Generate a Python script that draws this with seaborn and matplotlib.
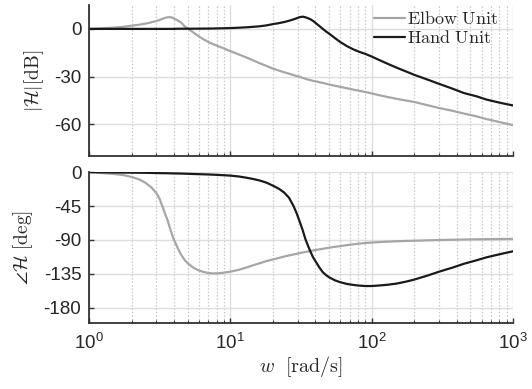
import numpy as np
import pandas as pd
import seaborn as sns
import matplotlib.pyplot as plt
from matplotlib.ticker import LogLocator, NullFormatter
from matplotlib.lines import Line2D

# frequencies [rad/s] and values
w = [1, 1.2, 1.5, 1.75, 2, 2.25, 2.5, 2.75, 3, 3.15, 3.3, 3.45, 3.6, 3.75, 3.9, 4,
     4.25, 4.5, 4.75, 5, 5.5, 6, 6.5, 7, 7.5, 8, 9, 10, 11.5, 13, 14.5, 16, 18, 20,
     22, 24, 26, 28, 29.5, 31, 32.5, 34, 35.5, 37, 38.5, 40, 42.5, 45, 47.5, 50, 55,
     60, 67, 75, 82, 90, 100, 110, 130, 150, 175, 200, 250, 300, 375, 450, 550, 650,
     800, 1000]

elbow_mag = [0, 0.3, 0.8, 1.3, 2.0, 2.6, 3.3, 4.1, 5.0, 5.6, 6.3, 6.9, 7.3, 7.4, 7.0, 6.5,
             5.3, 3.9, 1.6, 0.3, -2.4, -4.8, -6.7, -8.3, -9.5, -10.5, -12.3, -14.0, -16.1,
             -18.0, -19.8, -21.5, -23.3, -25.0, -26.2, -27.3, -28.2, -29.1, -29.7, -30.2,
             -30.8, -31.4, -31.9, -32.3, -32.7, -33.0, -33.5, -34.0, -34.5, -35.0, -35.8,
             -36.5, -37.4, -38.3, -39.0, -39.7, -40.6, -41.5, -42.9, -44.0, -45.1, -46.0,
             -48.1, -49.8, -51.6, -53.3, -55.0, -56.8, -58.6, -60.6]
hand_mag = [0, 0, 0, 0, 0, 0, 0, 0, 0, 0, 0, 0, 0, 0, 0, 0,
            0.1, 0.1, 0.1, 0.1, 0.12, 0.15, 0.18, 0.2, 0.25, 0.3, 0.4, 0.5, 0.75,
            1.0, 1.3, 1.6, 2.2, 3.0, 3.6, 4.3, 5.1, 6.0, 6.7, 7.4, 7.7, 7.3, 6.7, 6.0,
            5.0, 3.8, 1.9, 0.1, -1.6, -3.0, -5.8, -8.3, -10.9, -13.1, -14.5, -15.7,
            -17.4, -19.1, -22.0, -24.4, -26.8, -28.9, -32.0, -34.6, -37.7, -40.4,
            -42.4, -44.5, -46.4, -48.2]

elbow_phase = [0, -1.2, -2.5, -4, -6.5, -9.5, -14, -20, -28, -35, -45, -55, -64, -75,
               -85, -90, -101, -110, -116.5, -121, -127, -130.5, -132.5, -133.8, -134.3,
               -134.3, -133.3, -132, -129.5, -126.5, -123.5, -121, -118, -115.8, -113.8,
               -112, -110.5, -109.2, -108.3, -107.4, -106.6, -105.9, -105.2, -104.5,
               -103.9, -103.4, -102.5, -101.7, -100.9, -100.2, -99.1, -98.1, -96.8, -95.6,
               -94.8, -94.1, -93.4, -92.9, -92.2, -91.7, -91.3, -91, -90.5, -90.1, -89.7,
               -89.4, -89.1, -88.9, -88.7, -88.5]
hand_phase = [0, -0.3, -0.5, -0.7, -0.8, -0.9, -1, -1.15, -1.3, -1.4, -1.5, -1.55, -1.6,
              -1.7, -1.75, -1.8, -1.9, -2, -2.15, -2.3, -2.55, -2.8, -3.0, -3.2, -3.45,
              -3.7, -4.2, -4.7, -5.9, -7.5, -9.2, -11, -14, -18, -22, -27, -34, -45, -55,
              -66, -77, -89, -98, -106, -113, -118, -126, -132.5, -136.5, -139.5, -143.5,
              -146, -148.3, -149.7, -150.5, -151, -151, -150.5, -149.3, -147.8, -145.2,
              -142.5, -137, -132, -126.5, -121.5, -117, -113, -109, -105]

units = ["Elbow Unit", "Hand Unit"]
colors = {"Elbow Unit": "#a6a6a6", "Hand Unit": "#1a1a1a"}

df = pd.concat([
    pd.DataFrame({"w": w, "mag": elbow_mag, "phase": elbow_phase, "unit": units[0]}),
    pd.DataFrame({"w": w, "mag": hand_mag, "phase": hand_phase, "unit": units[1]}),
])

sns.set_theme(style="white")
plt.rcParams['font.family'] = ['Liberation Sans', 'DejaVu Sans']
plt.rcParams['mathtext.fontset'] = 'cm'

fig = plt.figure(figsize=(5.32, 3.89), dpi=100)
ax1 = fig.add_axes([0.1673, 0.599, 0.797, 0.388])
ax2 = fig.add_axes([0.1673, 0.1697, 0.797, 0.388])

sns.lineplot(data=df, x="w", y="mag", hue="unit", palette=colors, lw=1.6,
             legend=False, ax=ax1)
sns.lineplot(data=df, x="w", y="phase", hue="unit", palette=colors, lw=1.6,
             legend=False, ax=ax2)

for ax in (ax1, ax2):
    ax.set_xscale("log")
    ax.set_xlim(1, 1000)
    ax.xaxis.set_major_locator(LogLocator(base=10, numticks=10))
    ax.xaxis.set_minor_locator(LogLocator(base=10, subs=np.arange(2, 10), numticks=20))
    ax.xaxis.set_minor_formatter(NullFormatter())
    ax.grid(True, which="major", color="#dedede", lw=1.0, ls="-")
    ax.grid(True, which="minor", axis="x", color="#c8c8c8", lw=0.9, ls=(0, (1.2, 1.5)))
    ax.set_axisbelow(True)
    for s in ("top", "right"):
        ax.spines[s].set_visible(False)
    for s in ("left", "bottom"):
        ax.spines[s].set_color("#333333")
        ax.spines[s].set_linewidth(1.3)
    ax.tick_params(which="major", direction="in", length=3.5, width=1.0, color="#333333",
                   labelsize=13.5, left=True, bottom=True)
    ax.tick_params(which="minor", direction="in", length=2.5, width=0.8, color="#333333",
                   bottom=True)
    ax.tick_params(axis="y", pad=5.5)

ax1.set_ylim(-80, 15)
ax1.set_yticks([0, -30, -60])
ax1.set_yticklabels(["0", "-30", "-60"])
ax1.tick_params(labelbottom=False)
ax1.set_xlabel("")
ax1.set_ylabel(r"$|\mathcal{H}|[\mathrm{dB}]$", fontsize=14, labelpad=6)

ax2.set_ylim(-200, 0)
ax2.set_yticks([0, -45, -90, -135, -180])
ax2.set_yticklabels(["0", "-45", "-90", "-135", "-180"])
ax2.set_ylabel(r"$\angle\mathcal{H}\ [\mathrm{deg}]$", fontsize=14, labelpad=6)
ax2.set_xlabel(r"$w\ \ [\mathrm{rad/s}]$", fontsize=14.5, labelpad=1)
ax2.tick_params(axis="x", pad=7)

handles = [Line2D([], [], color=colors[u], lw=1.6) for u in units]
labels = [r"$\mathrm{Elbow\ Unit}$", r"$\mathrm{Hand\ Unit}$"]
ax1.legend(handles, labels, loc="upper right", bbox_to_anchor=(0.99, 1.03),
           frameon=False, fontsize=13, handlelength=1.7, handletextpad=0.1,
           labelspacing=0.1, borderaxespad=0.2)

fig.savefig("out.png", dpi=100)
